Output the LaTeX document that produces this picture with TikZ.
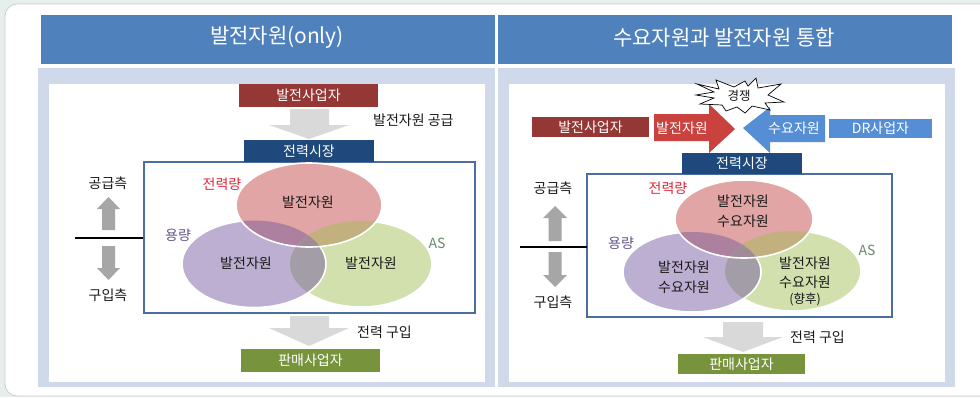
\documentclass[tikz,border=0pt]{standalone}
\usepackage{fontspec}
\setmainfont{Noto Sans CJK KR}
\newcommand\myfs[1]{\fontsize{#1}{#1}\selectfont}
\definecolor{bgout}{HTML}{E6EFEC}
\definecolor{hdrblue}{HTML}{4F81BD}
\definecolor{panel}{HTML}{CFD9EA}
\definecolor{darkred}{HTML}{953735}
\definecolor{navy}{HTML}{1F497D}
\definecolor{olive}{HTML}{77933C}
\definecolor{ppink}{HTML}{E0A5A4}
\definecolor{ppurple}{HTML}{BDAFD1}
\definecolor{pgreen}{HTML}{D1E0AD}
\definecolor{omauve}{HTML}{AD80A0}
\definecolor{otan}{HTML}{C2B07E}
\definecolor{ogray}{HTML}{A39DA7}
\definecolor{otri}{HTML}{A08B98}
\definecolor{lgray}{HTML}{D9D9D9}
\definecolor{mgray}{HTML}{A6A6A6}
\definecolor{rarrow}{HTML}{C9423E}
\definecolor{barrow}{HTML}{558ED5}
\definecolor{rimblue}{HTML}{4A6E9E}
\definecolor{lblred}{HTML}{E0283A}
\definecolor{lblpurple}{HTML}{66568A}
\definecolor{lblgreen}{HTML}{6A8A6A}
\definecolor{txt}{HTML}{1A1A1A}
\begin{document}
\begin{tikzpicture}[x=1pt,y=-1pt,
  box/.style={inner sep=0pt, text=white, font=\myfs{14}},
  hdr/.style={inner sep=0pt, text=white, font=\myfs{21}},
  lbl/.style={inner sep=0pt, text=txt, font=\myfs{14}, align=center},
  small/.style={inner sep=0pt, text=txt, font=\myfs{12.5}},
  ring/.style={draw=white, line width=1.6pt},
  rim/.style={draw=rimblue, line width=1.1pt}]
\useasboundingbox (0,0) rectangle (980,397);
% background
\fill[bgout] (0,0) rectangle (980,397);
\filldraw[fill=white, draw=gray!40, line width=0.8pt, rounded corners=12pt] (5,4) rectangle (1000,396);
% headers
\fill[hdrblue] (41,15) rectangle (495,64);
\fill[hdrblue] (498,15) rectangle (952,64);
\node[hdr] (h1) at (277,37.5) {발전자원(only)};
\node[hdr] (h2) at (724,37.5) {수요자원과 발전자원 통합};
% panels
\fill[panel] (38,68) rectangle (495,387);
\fill[white] (49,84) rectangle (485,382);
\fill[panel] (498,68) rectangle (955,387);
\fill[white] (509,84) rectangle (945,382);

%%%%% LEFT
\draw[rim] (144,162) rectangle (475,313);
\node[box, fill=darkred, minimum width=139pt, minimum height=23pt] (gen1) at (308.5,95) {발전사업자};
\fill[lgray] (290,109) -- (329,109) -- (329,125) -- (349,125) -- (309,139) -- (269,125) -- (290,125) -- cycle;
\node[lbl, anchor=west] (sup1) at (373,120) {발전자원 공급};
\node[box, fill=navy, minimum width=130pt, minimum height=22pt] (mkt1) at (309,151) {전력시장};
% venn left
\fill[pgreen] (361,264) ellipse [x radius=71pt, y radius=43pt];
\draw[ring] (361,264) ellipse [x radius=71pt, y radius=43pt];
\fill[ppurple] (254,264) ellipse [x radius=72pt, y radius=43.5pt];
\begin{scope}
  \clip (254,264) ellipse [x radius=72pt, y radius=43.5pt];
  \fill[ogray] (361,264) ellipse [x radius=71pt, y radius=43pt];
\end{scope}
\draw[ring] (254,264) ellipse [x radius=72pt, y radius=43.5pt];
\fill[ppink] (309,205) ellipse [x radius=73pt, y radius=42pt];
\begin{scope}
  \clip (309,205) ellipse [x radius=73pt, y radius=42pt];
  \fill[omauve] (254,264) ellipse [x radius=72pt, y radius=43.5pt];
  \fill[otan] (361,264) ellipse [x radius=71pt, y radius=43pt];
  \clip (254,264) ellipse [x radius=72pt, y radius=43.5pt];
  \fill[otri] (361,264) ellipse [x radius=71pt, y radius=43pt];
\end{scope}
\draw[ring] (309,205) ellipse [x radius=73pt, y radius=42pt];
\node[lbl] (t1a) at (308,202) {발전자원};
\node[lbl] (t1b) at (246,263) {발전자원};
\node[lbl] (t1c) at (371,263) {발전자원};
\node[lbl, text=lblred] (q1) at (222,184) {전력량};
\node[lbl, text=lblpurple] (c1) at (178,235) {용량};
\node[lbl, text=lblgreen] (as1) at (437,243) {AS};
% axis left
\node[lbl] (up1) at (108,183) {공급측};
\node[lbl] (dn1) at (108,295) {구입측};
\fill[mgray] (102,230) -- (102,209) -- (97,209) -- (108.5,197) -- (120,209) -- (115,209) -- (115,230) -- cycle;
\fill[mgray] (102,246) -- (115,246) -- (115,268) -- (120,268) -- (108.5,280) -- (97,268) -- (102,268) -- cycle;
\coordinate (ax1a) at (75,238);
\coordinate (ax1b) at (143,238);
\draw[black, line width=2pt] (ax1a) -- (ax1b);
% bottom left
\fill[lgray] (290,316) -- (329,316) -- (329,328) -- (349,328) -- (309,346) -- (269,328) -- (290,328) -- cycle;
\node[lbl, anchor=west] (buy1) at (357,332) {전력 구입};
\node[box, fill=olive, minimum width=139pt, minimum height=23pt] (sell1) at (310.5,360.5) {판매사업자};

%%%%% RIGHT
\draw[rim] (587,174) rectangle (892,317);
\node[box, fill=darkred, minimum width=117pt, minimum height=20pt] (gen2) at (590.5,127) {발전사업자};
\node[box, fill=barrow, minimum width=103pt, minimum height=19pt] (dr2) at (880.5,128.5) {DR사업자};
\fill[rarrow] (654,114) -- (709,114) -- (709,104) -- (735,129) -- (709,153) -- (709,141) -- (654,141) -- cycle;
\fill[barrow] (825,115) -- (770,115) -- (770,107) -- (743,128) -- (770,153) -- (770,142) -- (825,142) -- cycle;
\node[box] (ra) at (682,128.5) {발전자원};
\node[box] (ba) at (794,128.5) {수요자원};
\filldraw[fill=white, draw=black, line width=0.7pt, line join=miter]
  (697,84) -- (719,89) -- (716,80) -- (734,87) -- (745,81) -- (748,86) -- (756,78) -- (758,88) -- (781,84) -- (768,95) -- (784,102) -- (765,103) -- (770,110) -- (752,106) -- (745,113) -- (737,107) -- (726,111) -- (722,105) -- (700,104) -- (714,98) -- (696,95) -- (714,92) -- cycle;
\node[small] (comp) at (739,96) {경쟁};
\node[box, fill=navy, minimum width=120pt, minimum height=21pt] (mkt2) at (742,163.5) {전력시장};
% venn right
\fill[pgreen] (793,271) ellipse [x radius=68pt, y radius=40pt];
\draw[ring] (793,271) ellipse [x radius=68pt, y radius=40pt];
\fill[ppurple] (692,272) ellipse [x radius=69pt, y radius=40pt];
\begin{scope}
  \clip (692,272) ellipse [x radius=69pt, y radius=40pt];
  \fill[ogray] (793,271) ellipse [x radius=68pt, y radius=40pt];
\end{scope}
\draw[ring] (692,272) ellipse [x radius=69pt, y radius=40pt];
\fill[ppink] (744,219) ellipse [x radius=69pt, y radius=39pt];
\begin{scope}
  \clip (744,219) ellipse [x radius=69pt, y radius=39pt];
  \fill[omauve] (692,272) ellipse [x radius=69pt, y radius=40pt];
  \fill[otan] (793,271) ellipse [x radius=68pt, y radius=40pt];
  \clip (692,272) ellipse [x radius=69pt, y radius=40pt];
  \fill[otri] (793,271) ellipse [x radius=68pt, y radius=40pt];
\end{scope}
\draw[ring] (744,219) ellipse [x radius=69pt, y radius=39pt];
\node[lbl] (t2a) at (743,201) {발전자원};
\node[lbl] (t2b) at (743,221) {수요자원};
\node[lbl] (t2c) at (684,267) {발전자원};
\node[lbl] (t2d) at (684,287) {수요자원};
\node[lbl] (t2e) at (805,263) {발전자원};
\node[lbl] (t2f) at (805,282) {수요자원};
\node[small] (t2g) at (805,300) {(향후)};
\node[lbl, text=lblred] (q2) at (668,188) {전력량};
\node[lbl, text=lblpurple] (c2) at (621,243) {용량};
\node[lbl, text=lblgreen] (as2) at (867,250) {AS};
% axis right
\node[lbl] (up2) at (553,188) {공급측};
\node[lbl] (dn2) at (553,302) {구입측};
\fill[mgray] (548.5,241) -- (548.5,218) -- (543,218) -- (555,206) -- (567,218) -- (561.5,218) -- (561.5,241) -- cycle;
\fill[mgray] (548.5,252) -- (561.5,252) -- (561.5,275) -- (567,275) -- (555,287) -- (543,275) -- (548.5,275) -- cycle;
\coordinate (ax2a) at (520,247);
\coordinate (ax2b) at (587,247);
\draw[black, line width=2pt] (ax2a) -- (ax2b);
% bottom right
\fill[lgray] (723,322) -- (763,322) -- (763,337) -- (783,337) -- (743,352) -- (703,337) -- (723,337) -- cycle;
\node[lbl, anchor=west] (buy2) at (790,337) {전력 구입};
\node[box, fill=olive, minimum width=127pt, minimum height=20pt] (sell2) at (741.5,364) {판매사업자};
\end{tikzpicture}
\end{document}
